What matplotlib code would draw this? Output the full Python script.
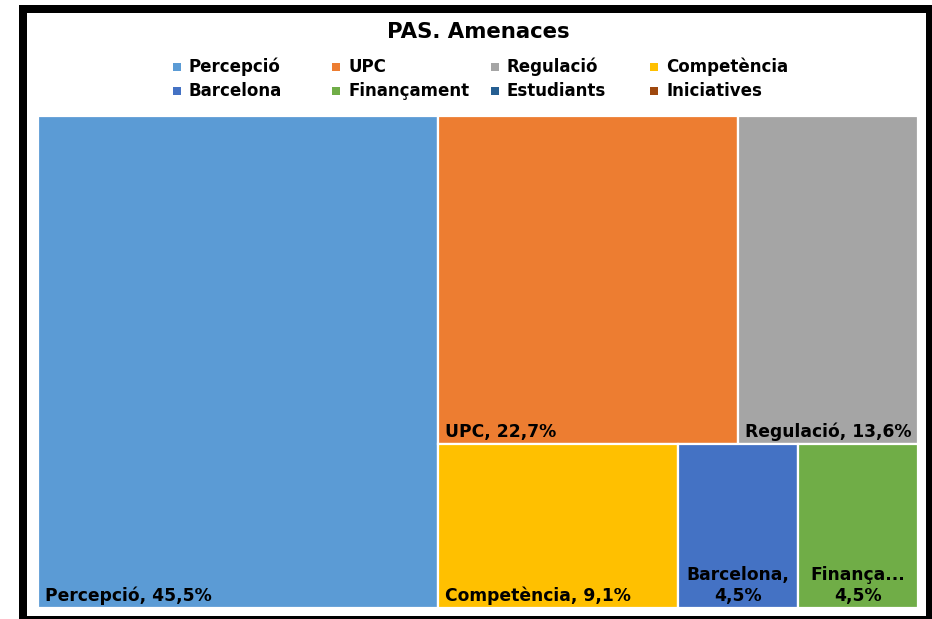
import matplotlib
matplotlib.use("Agg")
import matplotlib.pyplot as plt
from matplotlib.patches import Rectangle

# ---- data ----
title = "PAS. Amenaces"
categories = ["Percepció", "UPC", "Regulació", "Competència",
              "Barcelona", "Finançament", "Estudiants", "Iniciatives"]
values = [10, 5, 3, 2, 1, 1, 0, 0]
colors = ["#5B9BD5", "#ED7D31", "#A5A5A5", "#FFC000",
          "#4472C4", "#70AD47", "#255E91", "#9E480E"]

W, H = 932, 619
DPI = 100
fig = plt.figure(figsize=(W / DPI, H / DPI), dpi=DPI)
fig.patch.set_facecolor("white")

FONT = "DejaVu Sans"

# ---- squarified treemap layout ----
def worst(row, side):
    s = sum(row)
    return max(max(side * side * r / (s * s), (s * s) / (side * side * r)) for r in row)

def squarify(areas, x, y, w, h):
    rects = []
    areas = list(areas)
    while areas:
        side = min(w, h)
        row = [areas[0]]
        i = 1
        while i < len(areas) and worst(row + [areas[i]], side) <= worst(row, side):
            row.append(areas[i])
            i += 1
        areas = areas[i:]
        s = sum(row)
        if w >= h:  # column on the left
            cw = s / h
            yy = y
            for r in row:
                rh = r / cw
                rects.append((x, yy, cw, rh))
                yy += rh
            x += cw
            w -= cw
        else:  # row at the top
            rh = s / w
            xx = x
            for r in row:
                rw = r / rh
                rects.append((xx, y, rw, rh))
                xx += rw
            y += rh
            h -= rh
    return rects

# plot area in pixels
ax_l, ax_r, ax_t, ax_b = 38, 918, 116, 608
AW, AH = ax_r - ax_l, ax_b - ax_t
ax = fig.add_axes([ax_l / W, 1 - ax_b / H, AW / W, AH / H])
ax.set_xlim(0, AW)
ax.set_ylim(AH, 0)
ax.axis("off")

total = sum(values)
items = [(c, v, col) for c, v, col in zip(categories, values, colors) if v > 0]
areas = [v / total * AW * AH for _, v, _ in items]
rects = squarify(areas, 0, 0, AW, AH)

fig.canvas.draw()
renderer = fig.canvas.get_renderer()
pad = 7
fs_lab = 12.3

def fmt_pct(v):
    return f"{v / total * 100:.1f}%".replace(".", ",")

for (name, v, col), (x, y, w, h) in zip(items, rects):
    ax.add_patch(Rectangle((x, y), w, h, facecolor=col, edgecolor="white", linewidth=1.6))
    pct = fmt_pct(v)
    t = ax.text(x + pad, y + h - pad, f"{name}, {pct}", ha="left", va="baseline",
                fontsize=fs_lab, fontweight="bold", family=FONT, color="black")
    tw = t.get_window_extent(renderer).width
    if tw > w - pad - 2:
        t.remove()
        nm = name + ","
        t = ax.text(x + w / 2, y + h - 3, f"{nm}\n{pct}", ha="center", va="bottom",
                    multialignment="center", fontsize=fs_lab, fontweight="bold",
                    family=FONT, color="black", linespacing=1.2)
        tw = ax.text(0, 0, nm, fontsize=fs_lab, fontweight="bold", family=FONT)
        k = len(name)
        while tw.get_window_extent(renderer).width > w - 2 * pad + 4 and k > 1:
            k -= 1
            nm = name[:k] + "..."
            tw.set_text(nm)
        tw.remove()
        t.set_text(f"{nm}\n{pct}")

# ---- title ----
fig.text(478 / W, 1 - 32 / H, title, ha="center", va="center", fontsize=15.3,
         fontweight="bold", family=FONT, color="black")

# ---- legend (manual grid, 4 columns) ----
col_x0, col_dx = 173, 159
row_y = [67, 91]
for i, (name, col) in enumerate(zip(categories, colors)):
    c, r = i % 4, i // 4
    mx = col_x0 + c * col_dx
    my = row_y[r]
    fig.patches.append(Rectangle((mx / W, 1 - (my + 4) / H), 8 / W, 8 / H,
                                 transform=fig.transFigure, facecolor=col,
                                 edgecolor="none"))
    fig.text((mx + 16) / W, 1 - my / H, name, ha="left", va="center",
             fontsize=12, fontweight="bold", family=FONT, color="black")

# ---- frame ----
lw_px = 8
fig.patches.append(Rectangle((23 / W, 1 - 620 / H), (930 - 23) / W, (620 - 9) / H,
                             transform=fig.transFigure, fill=False,
                             edgecolor="black", linewidth=lw_px * 72 / DPI))

fig.savefig("out.png", dpi=DPI, facecolor="white")
